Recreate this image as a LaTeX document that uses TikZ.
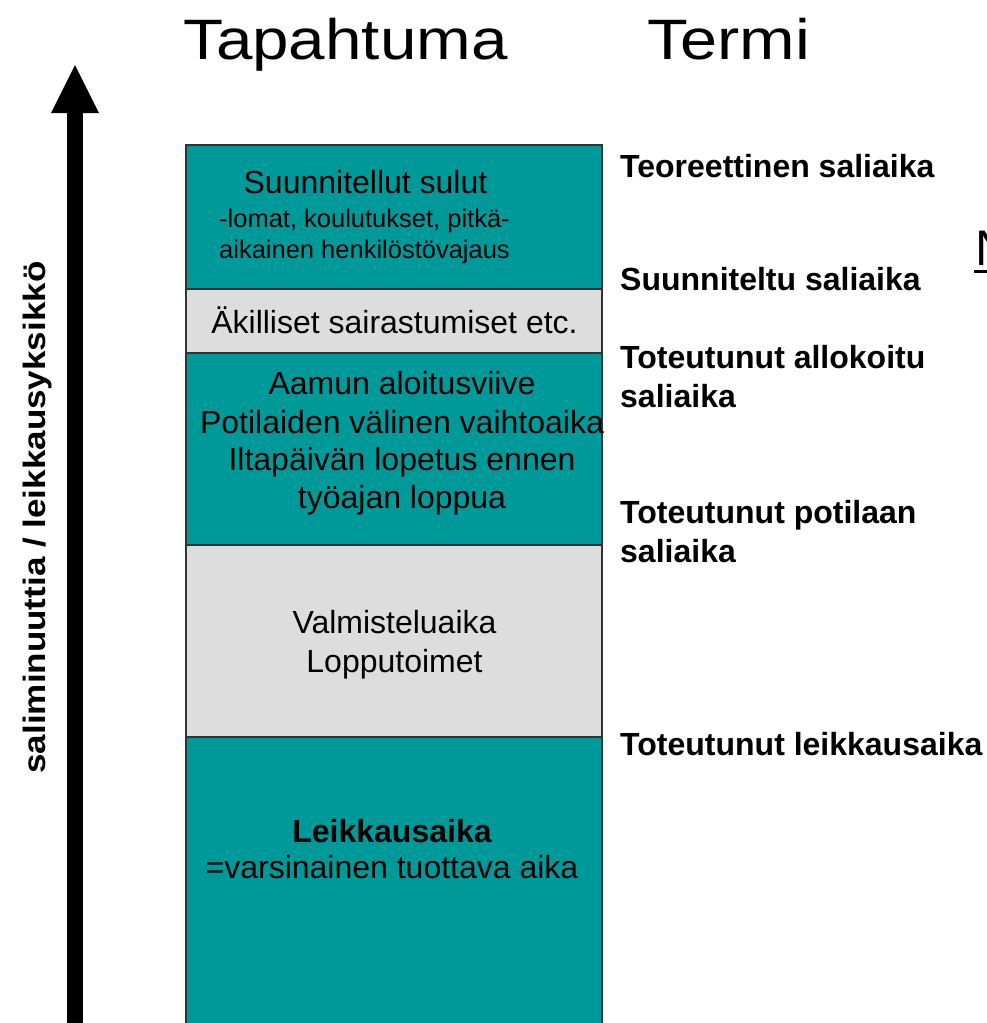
\documentclass[tikz,border=0pt]{standalone}
\usepackage{fontspec}
\setmainfont{Liberation Sans}
\definecolor{tealfill}{HTML}{009999}
\definecolor{grayfill}{HTML}{DDDDDD}
\definecolor{edgecol}{HTML}{333333}
\tikzset{
  tealbox/.style={fill=tealfill, draw=edgecol, line width=1.5pt},
  graybox/.style={fill=grayfill, draw=edgecol, line width=1.5pt},
  boxtext/.style={font=\fontsize{32}{38}\selectfont, inner sep=0pt, anchor=base},
  smalltext/.style={font=\fontsize{25.5}{30}\selectfont, inner sep=0pt, anchor=base west},
  termtext/.style={font=\fontsize{32}{37}\selectfont\bfseries, inner sep=0pt, anchor=base west},
  titletext/.style={font=\fontsize{57}{64}\selectfont, inner sep=0pt, anchor=base west},
  axistext/.style={font=\fontsize{31}{36}\selectfont\bfseries, inner sep=0pt, anchor=base, rotate=90},
  arrowfill/.style={fill=black, draw=none}
}
\begin{document}
\begin{tikzpicture}[x=1pt,y=-1pt]
\useasboundingbox (0,0) rectangle (987,1023);
\begin{scope}
\clip (0,0) rectangle (987,1023);
% titles
\node[titletext] (tapahtuma) at (183,59) {\scalebox{1.15}[1]{Tapahtuma}};
\node[titletext] (termi) at (647,59) {\scalebox{1.17}[1]{Termi}};
% axis arrow
\fill[arrowfill] (67,113) rectangle (83,1030);
\fill[arrowfill] (51,113) -- (75,65) -- (99,113) -- cycle;
\node[axistext] (axis) at (45,517.5) {\scalebox{1.13}[1]{saliminuuttia / leikkausyksikkö}};
% stacked boxes
\draw[tealbox] (186,145) rectangle (602,289);
\draw[graybox] (186,289) rectangle (602,353);
\draw[tealbox] (186,353) rectangle (602,545);
\draw[graybox] (186,545) rectangle (602,737);
\draw[tealbox] (186,737) rectangle (602,1035);
% box texts
\node[boxtext] (b1a) at (365.5,193) {Suunnitellut sulut};
\node[smalltext] (b1b) at (219,227) {-lomat, koulutukset, pitkä-};
\node[smalltext] (b1c) at (219,258) {aikainen henkilöstövajaus};
\node[boxtext] (b2) at (394.5,333) {Äkilliset sairastumiset etc.};
\node[boxtext] (b3a) at (402,394) {Aamun aloitusviive};
\node[boxtext] (b3b) at (402,433) {Potilaiden välinen vaihtoaika};
\node[boxtext] (b3c) at (402,470) {Iltapäivän lopetus ennen};
\node[boxtext] (b3d) at (402,508) {työajan loppua};
\node[boxtext] (b4a) at (394.5,633) {Valmisteluaika};
\node[boxtext] (b4b) at (394.5,672) {Lopputoimet};
\node[boxtext, font=\fontsize{32}{38}\selectfont\bfseries] (b5a) at (392,842) {Leikkausaika};
\node[boxtext] (b5b) at (392,878) {=varsinainen tuottava aika};
% terms
\node[termtext] (t1) at (620,177) {Teoreettinen saliaika};
\node[termtext] (t2) at (620,290) {Suunniteltu saliaika};
\node[termtext] (t3a) at (620,368) {Toteutunut allokoitu};
\node[termtext] (t3b) at (620,407) {saliaika};
\node[termtext] (t4a) at (620,523) {Toteutunut potilaan};
\node[termtext] (t4b) at (620,562) {saliaika};
\node[termtext] (t5) at (620,755) {Toteutunut leikkausaika};
% cut-off underlined letter at right edge
\node[font=\fontsize{50}{56}\selectfont, inner sep=0pt, anchor=base west] (nletter) at (975,265) {N};
\draw[line width=3pt] (974,271) -- (1000,271);
\end{scope}
\end{tikzpicture}
\end{document}
